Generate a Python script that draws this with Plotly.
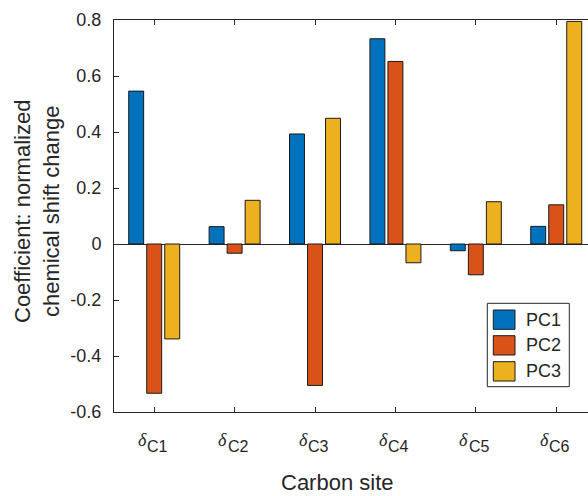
import plotly.graph_objects as go

# Carbon sites (tick positions) and their subscript labels
sites = [1, 2, 3, 4, 5, 6]
site_labels = ["C1", "C2", "C3", "C4", "C5", "C6"]

# Principal-component coefficients per carbon site
pc1 = [0.546, 0.062, 0.393, 0.733, -0.024, 0.063]
pc2 = [-0.533, -0.033, -0.505, 0.652, -0.110, 0.140]
pc3 = [-0.339, 0.156, 0.449, -0.067, 0.151, 0.795]

series_names = ["PC1", "PC2", "PC3"]
series_colors = ["#0072BD", "#D95319", "#EDB120"]

W, H = 588, 496
L, R, T, B = 114, 0, 20, 84
ink = "#262626"
font = "Liberation Sans, Arial, sans-serif"
serif = "Liberation Serif, Times New Roman, serif"

fig = go.Figure()
for name, vals, col in zip(series_names, [pc1, pc2, pc3], series_colors):
    fig.add_trace(go.Bar(
        x=sites, y=vals, name=name,
        marker=dict(color=col, line=dict(color="#1a1a1a", width=1)),
        showlegend=False,
    ))

fig.update_layout(
    width=W, height=H,
    margin=dict(l=L, r=R, t=T, b=B, pad=0),
    paper_bgcolor="white", plot_bgcolor="white",
    barmode="group", bargap=0.328, bargroupgap=0.17,
    font=dict(family=font, color=ink, size=18),
    xaxis=dict(
        range=[0.5, 6.395], tickmode="array", tickvals=sites,
        showticklabels=False,
        showline=True, linecolor=ink, linewidth=1, mirror="ticks",
        ticks="inside", ticklen=5, tickcolor=ink, tickwidth=1,
        showgrid=False, zeroline=False,
    ),
    yaxis=dict(
        range=[-0.6, 0.8], tickmode="array",
        tickvals=[-0.6, -0.4, -0.2, 0, 0.2, 0.4, 0.6, 0.8],
        ticktext=["-0.6", "-0.4", "-0.2", "0", "0.2", "0.4", "0.6", "0.8"],
        showline=True, linecolor=ink, linewidth=1, mirror=False,
        ticks="inside", ticklen=5, tickcolor=ink, tickwidth=1,
        showgrid=False, zeroline=True, zerolinecolor=ink, zerolinewidth=1,
        tickfont=dict(size=18, family=font, color=ink),
        ticklabelstandoff=8,
    ),
)

pw = W - L - R
ph = H - T - B


def px(x):
    return (x - L) / pw


def py(y):
    return 1 - (y - T) / ph


# Site tick labels: italic delta with the site name as a subscript
for s, lab in zip(sites, site_labels):
    fig.add_annotation(
        x=s, xref="x", y=py(439.5), yref="paper",
        text="<i>δ</i>", showarrow=False, xshift=-12,
        font=dict(size=18, family=serif, color=ink),
        xanchor="center", yanchor="middle",
    )
    fig.add_annotation(
        x=s, xref="x", y=py(446.5), yref="paper",
        text=lab, showarrow=False, xshift=3.5,
        font=dict(size=16, family=font, color=ink),
        xanchor="center", yanchor="middle",
    )

# Axis titles
fig.add_annotation(
    x=px(337), y=py(483), xref="paper", yref="paper",
    text="Carbon site", showarrow=False,
    font=dict(size=22, family=font, color=ink),
    xanchor="center", yanchor="middle",
)
fig.add_annotation(
    x=px(37), y=py(212), xref="paper", yref="paper",
    text="Coefficient: normalized<br>chemical shift change", showarrow=False,
    textangle=-90, font=dict(size=22, family=font, color=ink),
    xanchor="center", yanchor="middle",
)

# Legend box with swatches
fig.add_shape(type="rect", xref="paper", yref="paper",
              x0=px(487.3), x1=px(569.3), y0=py(386.7), y1=py(303.3),
              line=dict(color=ink, width=1), fillcolor="white", layer="above")
swatch_tops = [310, 335.7, 361.7]
for name, col, top in zip(series_names, series_colors, swatch_tops):
    fig.add_shape(type="rect", xref="paper", yref="paper",
                  x0=px(493.3), x1=px(515), y0=py(top + 19.3), y1=py(top),
                  line=dict(color="#1a1a1a", width=1), fillcolor=col, layer="above")
    fig.add_annotation(
        x=px(524), y=py(top + 9.7), xref="paper", yref="paper",
        text=name, showarrow=False, font=dict(size=18, family=font, color=ink),
        xanchor="left", yanchor="middle",
    )

fig.write_html("out.html")
